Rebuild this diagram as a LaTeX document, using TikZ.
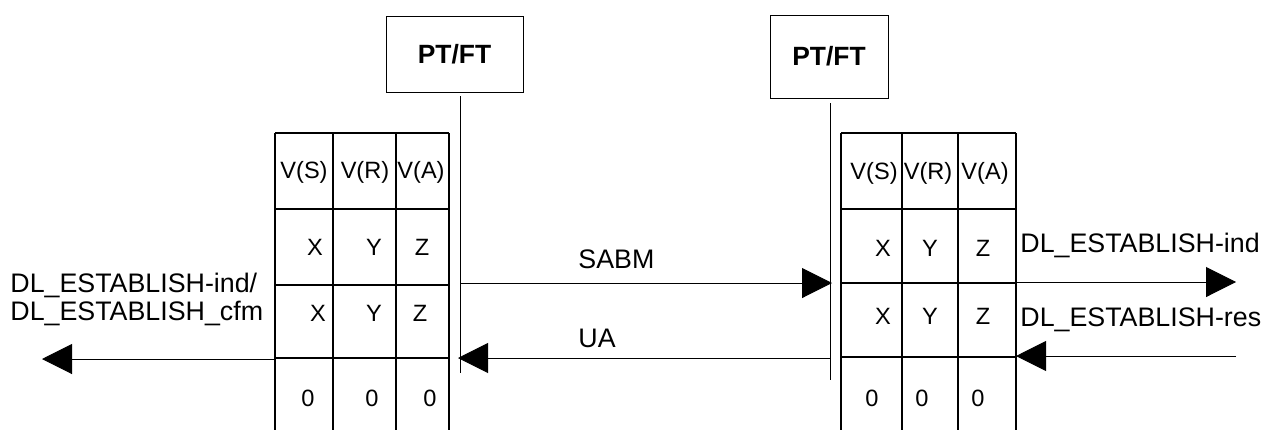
\documentclass[tikz,border=0pt]{standalone}
\usepackage{fontspec}
\setmainfont{Liberation Sans}
\usetikzlibrary{arrows.meta}
\begin{document}
\begin{tikzpicture}[x=0.5pt, y=-0.5pt]
\useasboundingbox (0, 0) rectangle (1262, 429);
% entity boxes
\begin{scope}[every node/.style = {draw, line width=0.5pt, inner sep=0pt, font=\fontsize{13.2}{15}\selectfont\bfseries}]
\node[minimum width=68.5pt, minimum height=38pt] (PTL) at (454.5, 54) {PT/FT};
\node[minimum width=59pt, minimum height=41.5pt] (PTR) at (829, 56.5) {PT/FT};
\end{scope}
% lifelines and arrow ends
\coordinate (LLtop) at (460, 96);
\coordinate (LLbot) at (460, 373);
\coordinate (RLtop) at (830, 103);
\coordinate (RLbot) at (830, 380);
\coordinate (SABMa) at (460, 283);
\coordinate (SABMb) at (832, 283);
\coordinate (UAa) at (830, 358);
\coordinate (UAb) at (458, 358);
\coordinate (CFMa) at (275, 359);
\coordinate (CFMb) at (42, 359);
\coordinate (INDa) at (1016, 282);
\coordinate (INDb) at (1236, 282);
\coordinate (RESa) at (1236, 356);
\coordinate (RESb) at (1016, 356);
\draw[line width=0.5pt] (LLtop) -- (LLbot);
\draw[line width=0.5pt] (RLtop) -- (RLbot);
% state tables
\begin{scope}[line width=1pt]
\foreach \x in {275, 333, 396, 449} \draw (\x, 133) -- (\x, 432);
\foreach \y in {133, 209, 285, 358} \draw (275, \y) -- (449, \y);
\foreach \x in {841, 902, 958, 1016} \draw (\x, 133) -- (\x, 432);
\foreach \y in {133, 209, 283, 357} \draw (841, \y) -- (1016, \y);
\end{scope}
\begin{scope}[every node/.style = {inner sep=0pt, font=\fontsize{11.8}{14}\selectfont}]
\node (LVS) at (304, 172) {V(S)};
\node (LVR) at (365, 172) {V(R)};
\node (LVA) at (421, 172) {V(A)};
\node (LX1) at (315, 247) {X};
\node (LY1) at (374, 247) {Y};
\node (LZ1) at (422, 247) {Z};
\node (LX2) at (318, 313) {X};
\node (LY2) at (374, 313) {Y};
\node (LZ2) at (420, 313) {Z};
\node (LS0) at (308, 398) {0};
\node (LR0) at (372, 398) {0};
\node (LA0) at (430, 398) {0};
\node (RVS) at (874, 173) {V(S)};
\node (RVR) at (928, 173) {V(R)};
\node (RVA) at (985, 173) {V(A)};
\node (RX1) at (883, 248) {X};
\node (RY1) at (930, 248) {Y};
\node (RZ1) at (983, 248) {Z};
\node (RX2) at (883, 316) {X};
\node (RY2) at (930, 316) {Y};
\node (RZ2) at (983, 316) {Z};
\node (RS0) at (872, 398) {0};
\node (RR0) at (922, 398) {0};
\node (RA0) at (978, 398) {0};
\end{scope}
% message labels
\begin{scope}[every node/.style = {anchor=west, inner sep=0pt, align=left, font=\fontsize{13.4}{14}\selectfont}]
\node (SABM) at (578, 259) {SABM};
\node (UA) at (578, 338) {UA};
\node (CFM) at (10, 299) {DL\_ESTABLISH-ind/\\DL\_ESTABLISH\_cfm};
\node (IND) at (1020, 245) {DL\_ESTABLISH-ind};
\node (RES) at (1020, 320) {DL\_ESTABLISH-res};
\end{scope}
\begin{scope}[every edge/.style = {draw, line width=0.5pt, -{Triangle[length=15pt, width=15pt]}}]
\path (SABMa) edge (SABMb);
\path (UAa) edge (UAb);
\path (CFMa) edge (CFMb);
\path (INDa) edge (INDb);
\path (RESa) edge (RESb);
\end{scope}
\end{tikzpicture}
\end{document}
